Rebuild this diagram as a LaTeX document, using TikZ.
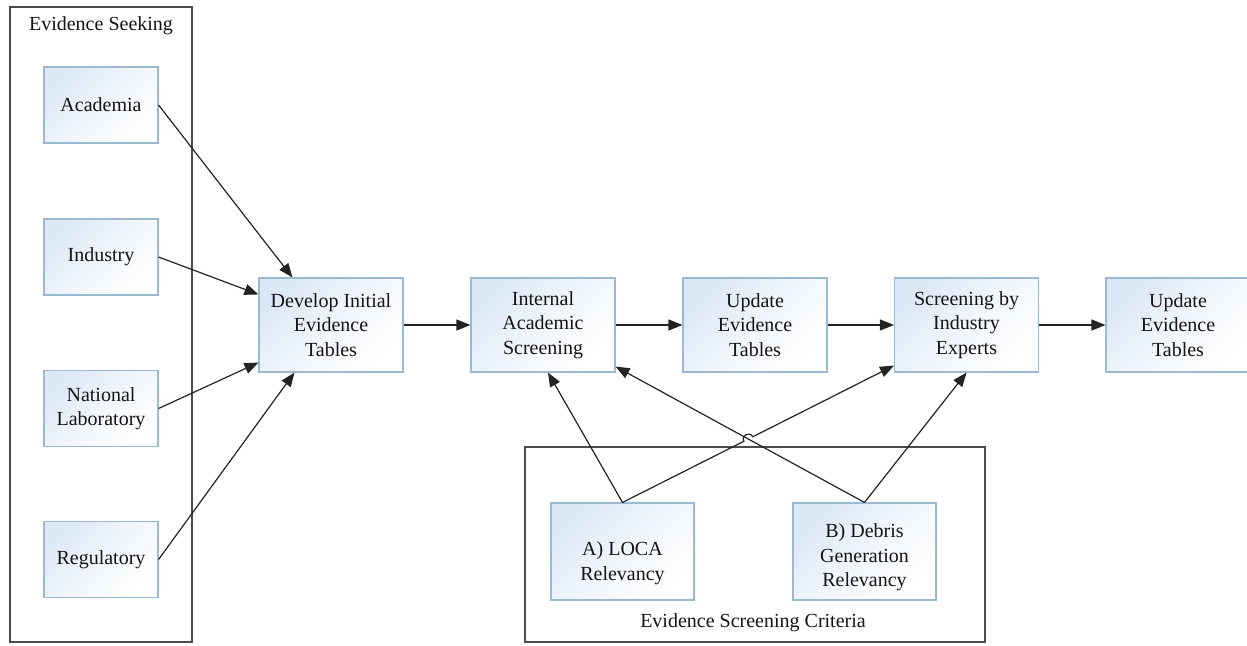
\documentclass[tikz,border=0pt]{standalone}
\usepackage{fontspec}
\setmainfont{Liberation Serif}[Ligatures=TeX]
\usetikzlibrary{arrows.meta,calc}

\definecolor{boxline}{RGB}{155,186,210}
\definecolor{boxfill}{RGB}{220,232,246}
\definecolor{frame}{RGB}{75,75,75}
\definecolor{wire}{RGB}{35,35,35}
\definecolor{txt}{RGB}{20,20,20}

\begin{document}
\begin{tikzpicture}[x=1pt,y=-1pt,
  every node/.style={text=txt, font=\rmfamily\fontsize{20}{24.5}\selectfont, align=center, inner sep=0pt},
  card/.style={draw=boxline, line width=1.1pt, top color=boxfill, bottom color=white, middle color=white!60!boxfill, shading angle=45},
  srcbox/.style={card, minimum width=114pt, minimum height=76pt},
  stagebox/.style={card, minimum width=144pt, minimum height=94pt},
  critbox/.style={card, minimum width=143pt, minimum height=97pt},
  group/.style={draw=frame, line width=1.4pt, fill=white},
  conn/.style={draw=wire, line width=1.2pt, -{Triangle[length=14pt,width=11pt]}}
]
\useasboundingbox (0,0) rectangle (1247,645);

% group frames
\node[group, minimum width=182pt, minimum height=635pt] (seek) at (101,324.5) {};
\node (seektitle) at (101,26) {Evidence Seeking};
\node[group, minimum width=460pt, minimum height=195pt] (crit) at (755,544.5) {};
\node (crittitle) at (753,623) {Evidence Screening Criteria};

% evidence sources
\node[srcbox] (acad) at (101,105) {Academia};
\node[srcbox] (ind)  at (101,257) {Industry};
\node[srcbox] (nat)  at (101,408.5) {National\\Laboratory};
\node[srcbox] (reg)  at (101,559.5) {Regulatory};

% main pipeline
\node[stagebox] (dev)  at (331,325) {Develop Initial\\Evidence\\Tables};
\node[stagebox] (int)  at (543,325) {Internal\\Academic\\Screening};
\node[stagebox] (upd1) at (755,325) {Update\\Evidence\\Tables};
\node[stagebox] (scr)  at (966.5,325) {Screening by\\Industry\\Experts};
\node[stagebox] (upd2) at (1178,325) {Update\\Evidence\\Tables};

% screening criteria
\node[critbox] (loca) at (622.5,551.5) {};
\node (locatxt) at (622.5,558) {\mbox{}\\A) LOCA\\Relevancy};
\node[critbox] (deb) at (864.5,551.5) {};
\node (debtxt) at (864.5,557.5) {B) Debris\\Generation\\Relevancy};

% sources into the first table
\draw[conn] (acad.east) -- ($(dev.north west)+(34,0)$);
\draw[conn] (ind.east)  -- ($(dev.north west)+(0,17)$);
\draw[conn] (nat.east)  -- ($(dev.south west)+(0,-10)$);
\draw[conn] (reg.east)  -- ($(dev.south west)+(36,0)$);

% pipeline arrows
\draw[conn] (dev) -- (int);
\draw[conn] (int) -- (upd1);
\draw[conn] (upd1) -- (scr);
\draw[conn] (scr) -- (upd2);

% criteria feeding the screenings
\coordinate (lsEnd) at ($(scr.south west)+(0,-7)$);
\coordinate (diEnd) at ($(int.south east)+(0,-6)$);
\coordinate (hop) at (intersection of loca.north--lsEnd and deb.north--diEnd);
\coordinate (hopA) at ($(hop)!5pt!(loca.north)$);
\coordinate (hopB) at ($(hop)!5pt!(lsEnd)$);
\coordinate (hopCa) at ($(hopA)!6.6pt!90:(hop)$);
\coordinate (hopCb) at ($(hopB)!6.6pt!-90:(hop)$);

\draw[conn] (loca.north) -- ($(int.south)+(5,0)$);
\draw[conn] (loca.north) -- (hopA) .. controls (hopCa) and (hopCb) .. (hopB) -- (lsEnd);
\draw[conn] (deb.north) -- (diEnd);
\draw[conn] (deb.north) -- (scr.south);
\end{tikzpicture}
\end{document}
